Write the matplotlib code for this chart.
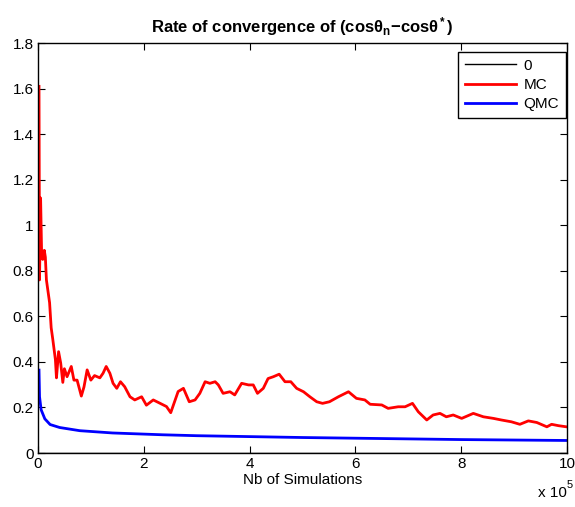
import numpy as np
import matplotlib.pyplot as plt
from matplotlib.ticker import FuncFormatter

plt.rcParams['font.family'] = ['Liberation Sans', 'DejaVu Sans']
plt.rcParams['mathtext.fontset'] = 'custom'
plt.rcParams['mathtext.rm'] = 'Liberation Sans:bold'
plt.rcParams['mathtext.it'] = 'Liberation Sans:bold'
plt.rcParams['mathtext.bf'] = 'Liberation Sans:bold'

# nombre de simulations (en unités de 1e5) et erreur Monte Carlo
mc_n = [0.02, 0.03, 0.05, 0.07, 0.09, 0.12, 0.14, 0.16, 0.22, 0.25, 0.28, 0.33,
        0.35, 0.39, 0.43, 0.47, 0.50, 0.55, 0.63, 0.68, 0.74, 0.82, 0.87, 0.93,
        1.00, 1.07, 1.17, 1.23, 1.29, 1.36, 1.42, 1.49, 1.56, 1.64, 1.74, 1.83,
        1.96, 2.05, 2.18, 2.31, 2.43, 2.51, 2.65, 2.75, 2.86, 2.97, 3.06, 3.16,
        3.25, 3.35, 3.41, 3.50, 3.63, 3.72, 3.85, 3.98, 4.07, 4.15, 4.26, 4.35,
        4.45, 4.56, 4.67, 4.78, 4.89, 5.02, 5.14, 5.27, 5.38, 5.51, 5.68, 5.87,
        6.02, 6.18, 6.28, 6.50, 6.62, 6.81, 6.94, 7.08, 7.19, 7.35, 7.47, 7.60,
        7.72, 7.85, 8.01, 8.23, 8.42, 8.61, 8.76, 8.95, 9.11, 9.27, 9.43, 9.62,
        9.71, 9.84, 9.99]
mc_err = [1.61, 0.76, 1.12, 0.87, 0.85, 0.89, 0.86, 0.76, 0.66, 0.55, 0.50, 0.41,
          0.33, 0.445, 0.395, 0.31, 0.37, 0.335, 0.38, 0.32, 0.32, 0.25, 0.29,
          0.365, 0.32, 0.34, 0.33, 0.35, 0.38, 0.35, 0.306, 0.284, 0.313, 0.291,
          0.247, 0.233, 0.247, 0.21, 0.233, 0.218, 0.204, 0.177, 0.27, 0.284,
          0.225, 0.233, 0.262, 0.313, 0.306, 0.313, 0.299, 0.262, 0.269, 0.255,
          0.306, 0.299, 0.299, 0.262, 0.284, 0.327, 0.335, 0.346, 0.313, 0.313,
          0.284, 0.269, 0.247, 0.225, 0.218, 0.225, 0.247, 0.269, 0.240, 0.233,
          0.214, 0.211, 0.196, 0.203, 0.203, 0.218, 0.181, 0.145, 0.167, 0.174,
          0.159, 0.167, 0.152, 0.174, 0.159, 0.152, 0.145, 0.137, 0.126, 0.141,
          0.134, 0.115, 0.126, 0.12, 0.115]

# erreur Quasi Monte Carlo
qmc_n = [0.02, 0.03, 0.06, 0.13, 0.23, 0.41, 0.79, 1.41, 2.36, 3.0, 4.0, 5.0,
         6.0, 7.0, 8.0, 9.0, 10.0]
qmc_err = [0.364, 0.247, 0.19, 0.15, 0.125, 0.112, 0.098, 0.088, 0.08, 0.076,
           0.072, 0.068, 0.065, 0.062, 0.059, 0.057, 0.055]

zero_n = [0.0, 10.0]
zero_err = [0.0, 0.0]

fig = plt.figure(figsize=(5.75, 5.07), dpi=100)
ax = fig.add_axes([0.066, 0.1065, 0.92, 0.8085])

ax.plot(np.array(zero_n) * 1e5, zero_err, color='black', lw=1, label='0')
ax.plot(np.array(mc_n) * 1e5, mc_err, color='red', lw=2, label='MC')
ax.plot(np.array(qmc_n) * 1e5, qmc_err, color='blue', lw=2, label='QMC')

ax.set_xlim(0, 1e6)
ax.set_ylim(0, 1.8)
ax.set_xticks(np.arange(0, 11, 2) * 1e5)
ax.set_yticks(np.arange(0, 1.81, 0.2))
ax.xaxis.set_major_formatter(FuncFormatter(lambda v, p: '%g' % (v / 1e5)))
ax.yaxis.set_major_formatter(FuncFormatter(lambda v, p: '%g' % round(v, 1)))
ax.tick_params(direction='in', length=5, top=True, right=True, labelsize=11,
               pad=3)
for s in ax.spines.values():
    s.set_linewidth(1)

ax.set_xlabel('Nb of Simulations', fontsize=11, labelpad=1)
ax.set_title('Rate of convergence of (cosθ$_n$−cosθ$^*$)',
             fontsize=12, fontweight='bold', pad=8)
ax.text(1.0, -0.08, 'x 10', transform=ax.transAxes, fontsize=11,
        ha='right', va='top')
ax.text(1.0, -0.066, '5', transform=ax.transAxes, fontsize=8,
        ha='left', va='top')

leg = ax.legend(loc='upper right', bbox_to_anchor=(0.998, 0.979), fontsize=11,
                fancybox=False, framealpha=1, edgecolor='black',
                handlelength=3.3, handletextpad=0.5, labelspacing=0.35,
                borderpad=0.45, borderaxespad=0)
leg.get_frame().set_linewidth(1)

fig.savefig('out.png', dpi=100)
